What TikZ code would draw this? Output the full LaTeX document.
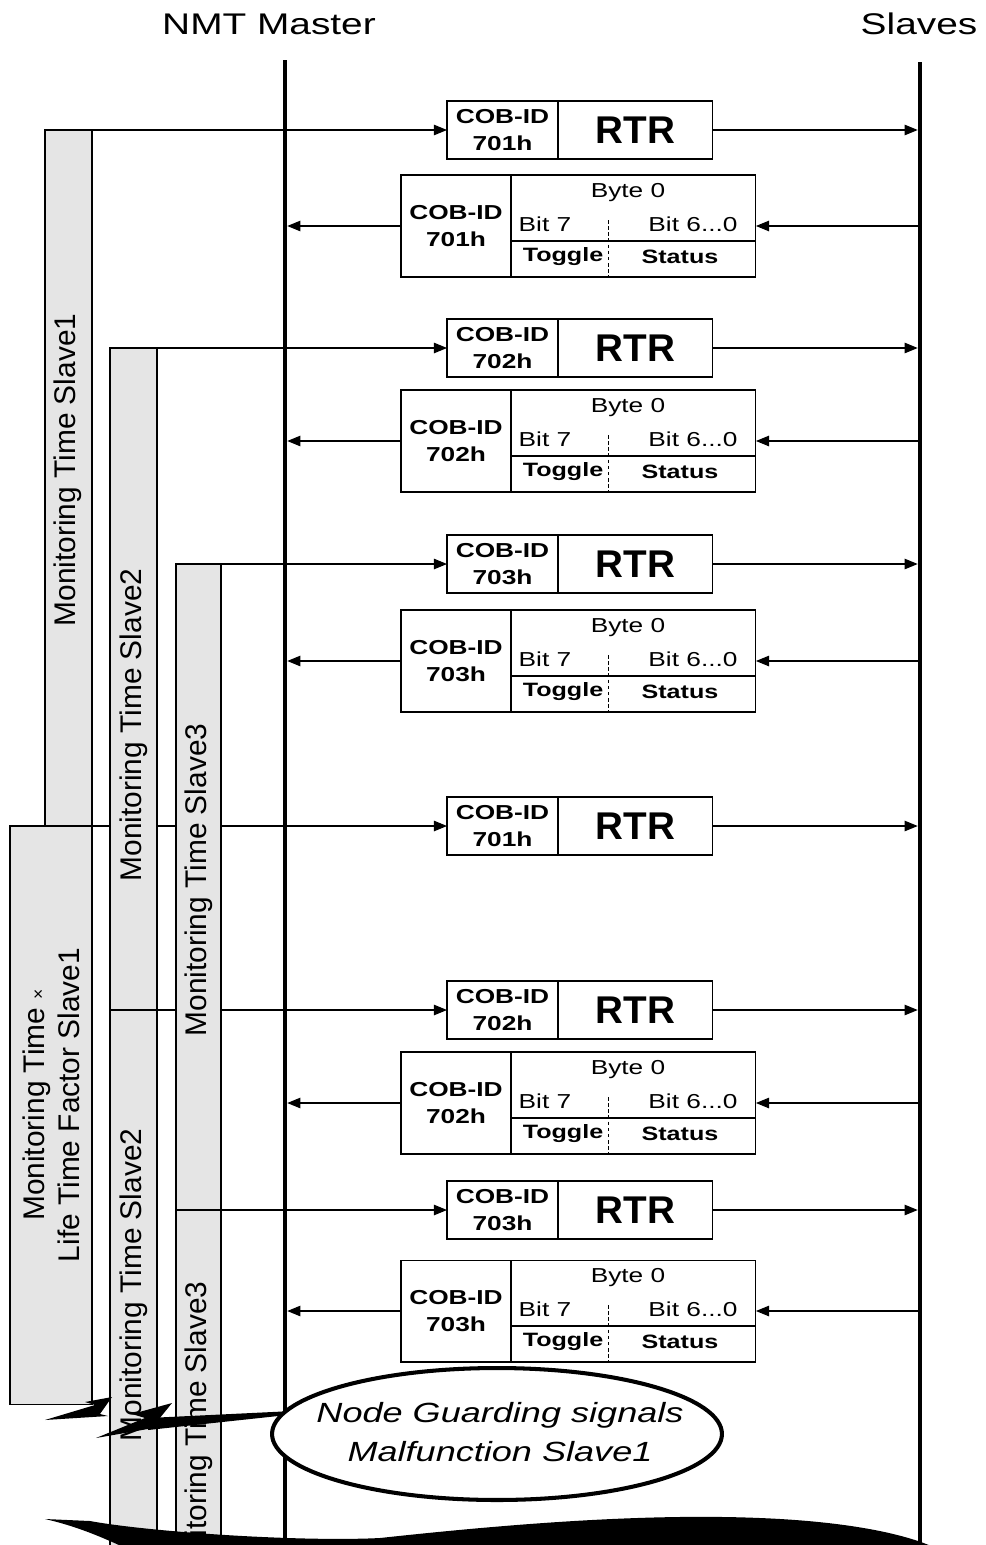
\documentclass[tikz,border=0pt]{standalone}
\usepackage{fontspec}
\setmainfont{Liberation Sans}
\newfontfamily\widesf[FakeStretch=1.3]{Liberation Sans}
\usetikzlibrary{shapes.geometric, positioning, arrows.meta, calc}

\begin{document}
\begin{tikzpicture}[x=0.02cm, y=-0.02cm,
        cell/.style={draw, rectangle, inner sep=0pt, outer sep=0pt, line width=0.6pt, fill=white},
        idcell/.style={cell, align=center, font=\widesf\bfseries\fontsize{11.5}{15.3}\selectfont},
        rtrcell/.style={cell, font=\bfseries\fontsize{22}{24}\selectfont, minimum width=3.1cm, minimum height=1.16cm},
        bittext/.style={inner sep=0pt, font=\widesf\fontsize{11.5}{13}\selectfont},
        boldtext/.style={inner sep=0pt, font=\widesf\bfseries\fontsize{11}{13}\selectfont},
        bar/.style={draw, rectangle, fill=black!10, line width=0.6pt, inner sep=0pt, outer sep=0pt, anchor=north west},
        bartext/.style={rotate=90, inner sep=0pt, align=center, font=\fontsize{17}{20}\selectfont},
        msg/.style={line width=0.6pt, -{Triangle[length=7.5pt, width=6pt]}},
        lifeline/.style={line width=2.5pt},
        head/.style={inner sep=0pt, font=\widesf\fontsize{17}{20}\selectfont}]
        \clip (0,0) rectangle (985,1545);

        % lifelines
        \coordinate (mst) at (285,60);
        \coordinate (mstend) at (285,1545);
        \coordinate (slv) at (920,62);
        \coordinate (slvend) at (920,1545);
        \draw[lifeline] (mst) -- (mstend);
        \draw[lifeline] (slv) -- (slvend);
        \node[head] (nmt) at (269,24) {NMT Master};
        \node[head] (slaves) at (919,24) {Slaves};

        % RTR requests
        \foreach \i/\y/\cob in {1/130/701, 2/348/702, 3/564/703, 4/826/701, 5/1010/702, 6/1210/703} {
            \node[idcell, minimum width=2.22cm, minimum height=1.16cm] (q\i) at (502.5,\y) {COB-ID\\\cob h};
            \node[rtrcell, right=0pt of q\i] (r\i) {RTR};
            \draw[msg, shorten >=1.3pt] (r\i.east) -- (r\i -| slv);
        }

        % slave answers
        \foreach \i/\y/\cob in {1/228/701, 2/443/702, 3/663/703, 4/1105/702, 5/1313/703} {
            \node[idcell, minimum width=2.2cm, minimum height=2.04cm] (a\i) at (456,\y-2) {COB-ID\\\cob h};
            \node[cell, anchor=north west, minimum width=4.9cm, minimum height=1.32cm] (b\i) at (a\i.north east) {};
            \node[cell, anchor=north west, minimum width=4.9cm, minimum height=0.72cm] (c\i) at (b\i.south west) {};
            \node[bittext] (byte\i) at (628,\y-35) {Byte 0};
            \node[bittext] (bh\i) at (545,\y-4) {Bit 7};
            \node[bittext] (bl\i) at (693,\y-4) {Bit 6...0};
            \node[boldtext] (tog\i) at (563,\y+29) {Toggle};
            \node[boldtext] (sta\i) at (680,\y+29) {Status};
            \draw[dash pattern=on 2pt off 1.5pt, line width=0.5pt] (608,\y-8) -- (608,\y+49);
            \draw[msg] (a\i -| slv) -- (a\i -| b\i.east);
            \draw[msg, shorten >=1.3pt] (a\i.west) -- (a\i -| mst);
        }

        % monitoring times slave1
        \node[bar, minimum width=0.94cm, minimum height=13.92cm] (bar1) at (45,130) {};
        \node[bar, minimum width=1.64cm, minimum height=11.58cm] (bar1b) at (10,826) {};
        \node[bartext] (t1) at (68,470) {Monitoring Time Slave1};
        \node[bartext] (t1b) at (51,1105) {Monitoring Time {\fontsize{10}{10}\selectfont ×}\\Life Time Factor Slave1};
        \draw[msg] (bar1.north east) -- (q1.west);
        \draw[msg] (bar1b.north east) -- (q4.west);

        % slave2
        \node[bar, minimum width=0.94cm, minimum height=13.24cm] (bar2) at (110,348) {};
        \node[bar, minimum width=0.94cm, minimum height=11cm] (bar2b) at (110,1010) {};
        \node[bartext] (t2) at (134,725) {Monitoring Time Slave2};
        \node[bartext] (t2b) at (134,1285) {Monitoring Time Slave2};
        \draw[msg] (bar2.north east) -- (q2.west);
        \draw[msg] (bar2b.north east) -- (q5.west);

        % slave3
        \node[bar, minimum width=0.9cm, minimum height=12.92cm] (bar3) at (176,564) {};
        \node[bar, minimum width=0.9cm, minimum height=7cm] (bar3b) at (176,1210) {};
        \node[bartext] (t3) at (199,880) {Monitoring Time Slave3};
        \node[bartext] (t3b) at (199,1438) {Monitoring Time Slave3};
        \draw[msg] (bar3.north east) -- (q3.west);
        \draw[msg] (bar3b.north east) -- (q6.west);

        % error signal
        \node[ellipse, draw, line width=2.3pt, fill=white, minimum width=9cm, minimum height=2.64cm, inner sep=0pt] (sig) at (497,1434) {};
        \node[align=center, inner sep=0pt, font=\widesf\itshape\fontsize{15.8}{22}\selectfont] (sigtext) at (500,1432) {Node Guarding signals\\Malfunction Slave1};
        \coordinate (hit) at (148,1424);
        \fill (45,1420) -- (95,1405) -- (85,1402) -- (112,1397) -- (100,1414) -- (108,1416) -- cycle;
        \fill (96,1438) -- (145,1418) -- (132,1414) -- (172,1403) -- (155,1424) -- (165,1426) -- cycle;
        \fill ($(hit)+(0,-6)$) -- (sig.174) -- ($(sig.174)+(0,4)$) -- ($(hit)+(0,6)$) -- cycle;

        % torn edge
        \fill (45,1519) -- (90,1521) .. controls (150,1532) and (300,1542) .. (380,1538)
            .. controls (500,1525) and (640,1513) .. (760,1518)
            .. controls (860,1522) and (930,1538) .. (955,1560) -- (150,1560)
            .. controls (110,1540) and (80,1527) .. (45,1519) -- cycle;
    \end{tikzpicture}
\end{document}
